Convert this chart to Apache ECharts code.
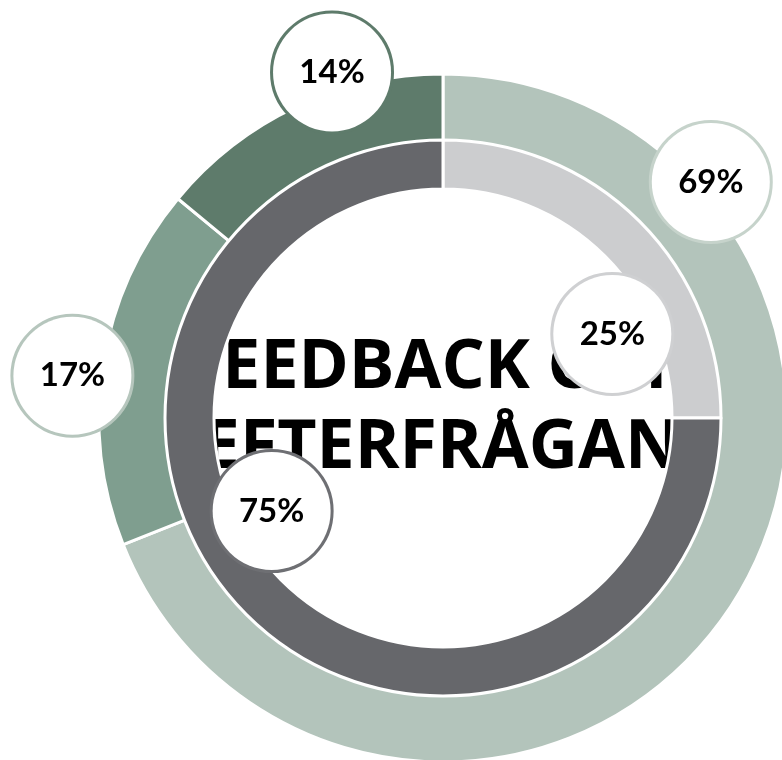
<!DOCTYPE html>
<html>
<head>
<meta charset="utf-8">
<script src="https://cdn.jsdelivr.net/npm/echarts@6/dist/echarts.min.js"></script>
<style>html,body{margin:0;padding:0;background:#fff}#c{width:782px;height:760px}</style>
</head>
<body>
<div id="c"></div>
<script>
// Data
var outerNames = ['A', 'B', 'C'];
var outerValues = [69, 17, 14];
var innerNames = ['D', 'E'];
var innerValues = [25, 75];
var titleLines = ['FEEDBACK OCH', 'EFTERFRÅGAN'];

// Styles
var outerColors = ['#b3c4bb', '#7f9e8f', '#5e7b6b'];
var outerLabelBorders = ['#c6d3cb', '#b6c6bd', '#5e7b6b'];
var innerColors = ['#cccdcf', '#66676b'];
var innerLabelBorders = ['#cfd0d2', '#6e6f73'];
// label placement (angle clockwise from top in degrees, distance from centre in px)
var outerLabelPos = [[48.6, 357], [276.5, 373], [342.2, 363]];
var innerLabelPos = [[63.6, 189], [241.5, 195]];

var CX = 443, CY = 418;

function buildData(names, values, colors, borders) {
  return names.map(function (n, i) {
    return {
      name: n, value: values[i],
      itemStyle: { color: colors[i] },
      label: { borderColor: borders[i] }
    };
  });
}

function layoutFor(pos) {
  return function (params) {
    var p = pos[params.dataIndex];
    var a = p[0] * Math.PI / 180;
    return {
      x: CX + Math.sin(a) * p[1],
      y: CY - Math.cos(a) * p[1],
      align: 'center',
      verticalAlign: 'middle'
    };
  };
}

var labelBase = {
  show: true,
  position: 'outside',
  formatter: '{c}%',
  color: '#000',
  fontFamily: 'Lato',
  fontWeight: 'bold',
  fontSize: 33,
  backgroundColor: '#fff',
  borderWidth: 3,
  borderRadius: 60,
  width: 118,
  height: 118,
  lineHeight: 118,
  align: 'center',
  verticalAlign: 'middle'
};

var chart = echarts.init(document.getElementById('c'), null, { renderer: 'canvas' });
chart.setOption({
  animation: false,
  backgroundColor: '#fff',
  graphic: {
    elements: titleLines.map(function (t, i) {
      return {
        type: 'text', z: -10,
        x: CX - 2, y: 369 + i * 80,
        style: {
          text: t,
          fill: '#000',
          font: '700 68px "Open Sans"',
          align: 'center',
          verticalAlign: 'middle'
        }
      };
    })
  },
  series: [
    {
      type: 'pie',
      center: [CX, CY],
      radius: [277, 344],
      startAngle: 90,
      clockwise: true,
      avoidLabelOverlap: false,
      itemStyle: { borderColor: '#fff', borderWidth: 3 },
      label: labelBase,
      labelLine: { show: false },
      labelLayout: layoutFor(outerLabelPos),
      emphasis: { disabled: true },
      data: buildData(outerNames, outerValues, outerColors, outerLabelBorders)
    },
    {
      type: 'pie',
      center: [CX, CY],
      radius: [229, 278],
      startAngle: 90,
      clockwise: true,
      avoidLabelOverlap: false,
      itemStyle: { borderColor: '#fff', borderWidth: 3 },
      label: labelBase,
      labelLine: { show: false },
      labelLayout: layoutFor(innerLabelPos),
      emphasis: { disabled: true },
      data: buildData(innerNames, innerValues, innerColors, innerLabelBorders)
    }
  ]
});
</script>
</body>
</html>
